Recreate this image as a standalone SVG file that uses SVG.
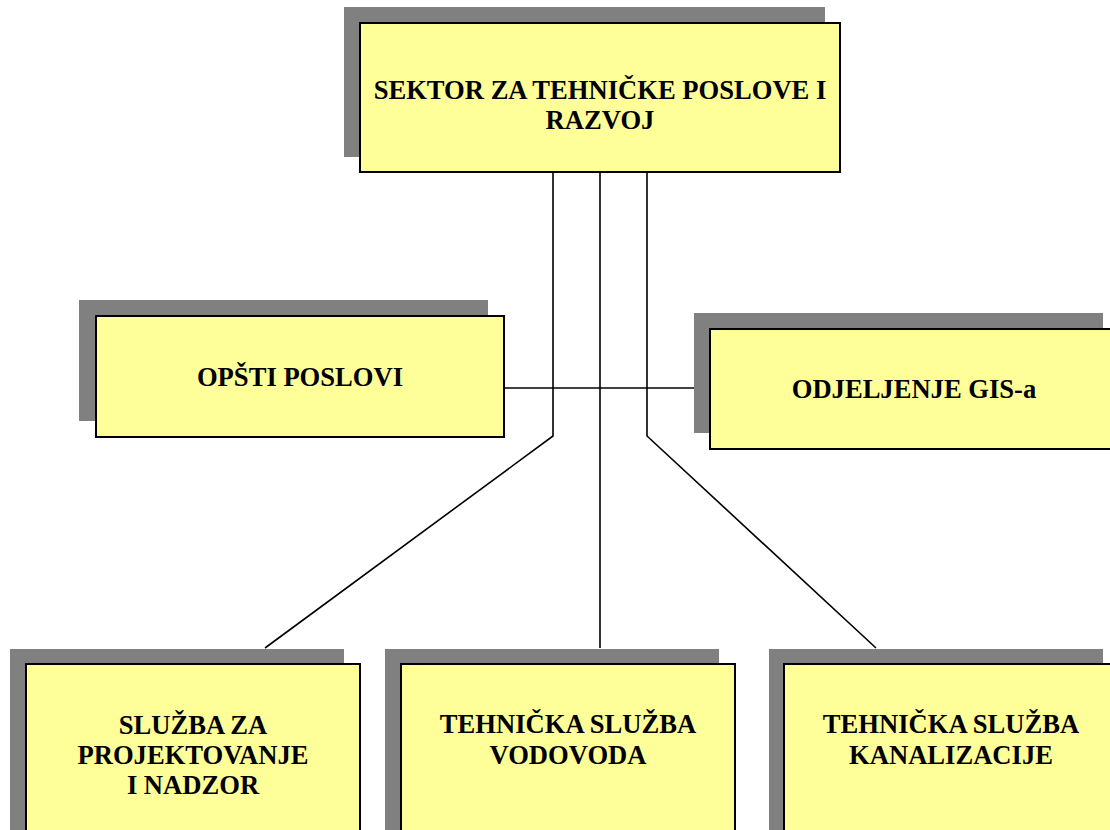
<svg xmlns="http://www.w3.org/2000/svg" width="1110" height="830" viewBox="0 0 1110 830">
<style>
.sh{fill:#808080}
.bx{fill:#FFFF99;stroke:#000;stroke-width:2}
.t{font-family:"Liberation Serif","Times New Roman",serif;font-weight:bold;font-size:26.6px;fill:#000;text-anchor:middle}
.c{stroke:#000;stroke-width:1.6;fill:none}
</style>
<rect width="1110" height="830" fill="#fff"/>
<g id="connectors">
<polyline class="c" points="553,172 553,436 265,648"/>
<line class="c" x1="600" y1="172" x2="600" y2="648"/>
<polyline class="c" points="647,172 647,436 876,648"/>
<line class="c" x1="504" y1="388" x2="694" y2="388"/>
</g>
<g id="sektor">
<rect class="sh" x="344" y="7" width="481" height="150"/>
<rect class="bx" x="360" y="23" width="480" height="149"/>
<text class="t" x="600" y="99">SEKTOR ZA TEHNIČKE POSLOVE I</text>
<text class="t" x="600" y="129">RAZVOJ</text>
</g>
<g id="opsti">
<rect class="sh" x="79" y="300" width="409" height="121"/>
<rect class="bx" x="96" y="316" width="408" height="121"/>
<text class="t" x="300" y="386">OPŠTI POSLOVI</text>
</g>
<g id="gis">
<rect class="sh" x="694" y="313" width="409" height="120"/>
<rect class="bx" x="710" y="329" width="408" height="120"/>
<text class="t" x="914" y="398">ODJELJENJE GIS-a</text>
</g>
<g id="projektovanje">
<rect class="sh" x="10" y="649" width="334" height="200"/>
<rect class="bx" x="26" y="664" width="334" height="200"/>
<text class="t" x="193" y="734">SLUŽBA ZA</text>
<text class="t" x="193" y="764">PROJEKTOVANJE</text>
<text class="t" x="193" y="794">I NADZOR</text>
</g>
<g id="vodovod">
<rect class="sh" x="385" y="649" width="334" height="200"/>
<rect class="bx" x="401" y="664" width="334" height="200"/>
<text class="t" x="568" y="733">TEHNIČKA SLUŽBA</text>
<text class="t" x="568" y="764">VODOVODA</text>
</g>
<g id="kanalizacija">
<rect class="sh" x="769" y="649" width="334" height="200"/>
<rect class="bx" x="784" y="664" width="334" height="200"/>
<text class="t" x="951" y="733">TEHNIČKA SLUŽBA</text>
<text class="t" x="951" y="764">KANALIZACIJE</text>
</g>
</svg>
